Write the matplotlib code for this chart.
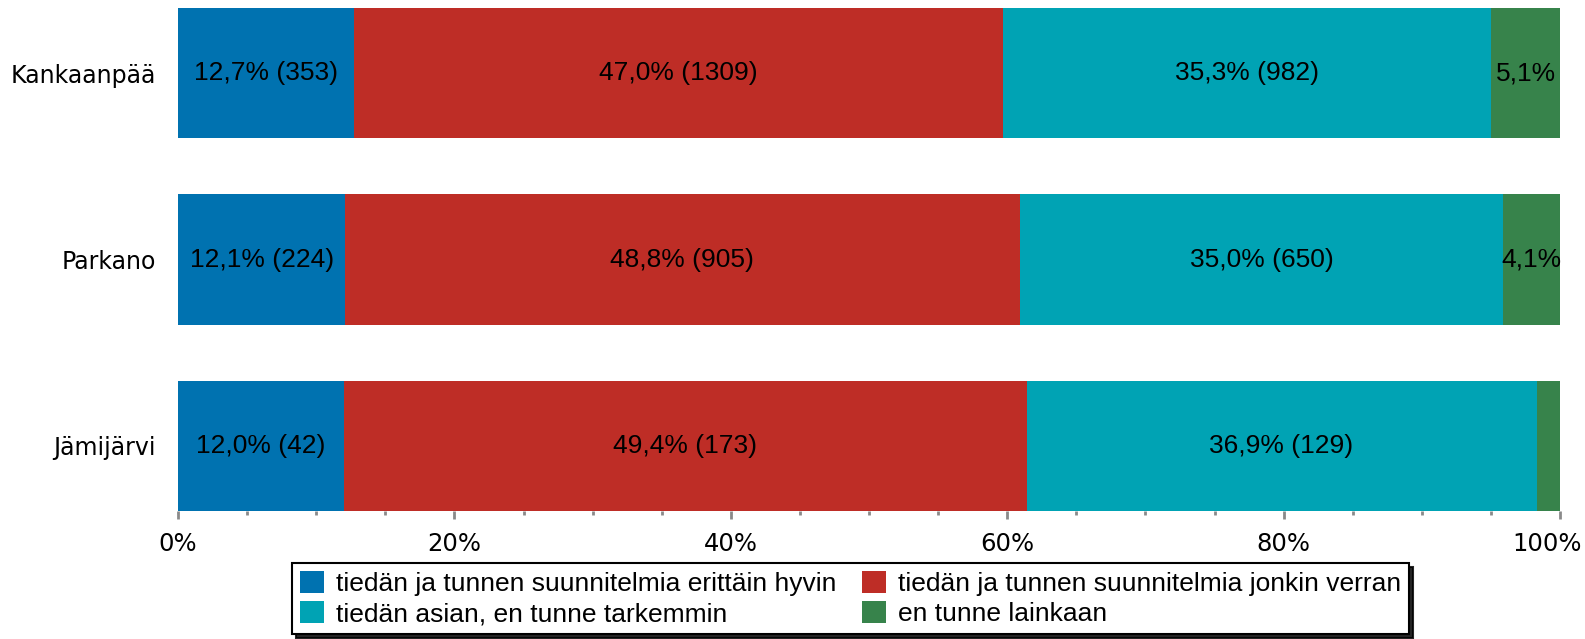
#!/usr/bin/env python3
"""Stacked horizontal bar chart: awareness of plans per municipality."""
import matplotlib
matplotlib.use("Agg")
import matplotlib.pyplot as plt
from matplotlib.ticker import MultipleLocator, FuncFormatter

municipalities = ["Kankaanpää", "Parkano", "Jämijärvi"]
series_names = [
    "tiedän ja tunnen suunnitelmia erittäin hyvin",
    "tiedän ja tunnen suunnitelmia jonkin verran",
    "tiedän asian, en tunne tarkemmin",
    "en tunne lainkaan",
]
# percentages per series (rows follow municipalities)
pct_hyvin = [12.7, 12.1, 12.0]
pct_verran = [47.0, 48.8, 49.4]
pct_asian = [35.3, 35.0, 36.9]
pct_ei = [5.1, 4.1, 1.7]
# counts shown in labels
n_hyvin = [353, 224, 42]
n_verran = [1309, 905, 173]
n_asian = [982, 650, 129]
n_ei = [142, 76, 6]

colors = ["#0072B0", "#BE2D26", "#00A3B4", "#37834B"]

fig = plt.figure(figsize=(15.85, 6.39), dpi=100)
ax = fig.add_axes([178 / 1585, 1 - 511 / 639, (1560 - 178) / 1585, (511 - 8) / 639])

ypos = list(range(len(municipalities)))
left = [0.0] * len(municipalities)
all_pct = [pct_hyvin, pct_verran, pct_asian, pct_ei]
all_n = [n_hyvin, n_verran, n_asian, n_ei]
handles = []
for k, (vals, counts) in enumerate(zip(all_pct, all_n)):
    bars = ax.barh(ypos, vals, left=left, height=0.7, color=colors[k],
                   label=series_names[k])
    handles.append(bars)
    for i, (v, c) in enumerate(zip(vals, counts)):
        cx = left[i] + v / 2
        if v >= 10:
            txt = f"{v:.1f}% ({c})".replace(".", ",")
        elif v >= 3:
            txt = f"{v:.1f}%".replace(".", ",")
        else:
            txt = ""
        if txt:
            ax.text(cx, i, txt, ha="center", va="center", fontsize=19,
                    family="Liberation Sans", color="black")
    left = [l + v for l, v in zip(left, vals)]

ax.set_xlim(0, 100)
ax.set_ylim(2.35, -0.35)
ax.set_yticks(ypos)
ax.set_yticklabels(municipalities, fontsize=17)
ax.tick_params(axis="y", length=0, pad=16)

ax.xaxis.set_major_locator(MultipleLocator(20))
ax.xaxis.set_minor_locator(MultipleLocator(5))
# the 100% label is drawn separately so it stays inside the figure
ax.xaxis.set_major_formatter(FuncFormatter(lambda x, _: "" if x >= 100 else f"{x:.0f}%"))
ax.tick_params(axis="x", which="major", length=6, width=2, color="#8a8a8a",
               labelsize=17.5, pad=9)
ax.tick_params(axis="x", which="minor", length=3, width=2, color="#8a8a8a")
ax.annotate("100%", xy=(100, 0), xycoords=("data", "axes fraction"),
            xytext=(-9.5, -15), textcoords="offset points",
            ha="center", va="top", fontsize=17.5)

for s in ["top", "right", "left", "bottom"]:
    ax.spines[s].set_visible(False)

order = [0, 2, 1, 3]
leg = fig.legend([handles[i] for i in order], [series_names[i] for i in order],
                 loc="upper left", bbox_to_anchor=(292 / 1585, 1 - 563 / 639),
                 ncol=2, frameon=True, fancybox=False,
                 edgecolor="black", shadow={"color": "black", "alpha": 0.85, "ox": 3, "oy": -3},
                 handlelength=0.9, handleheight=0.9, handletextpad=0.45,
                 borderpad=0.3, labelspacing=0.2, columnspacing=1.0,
                 borderaxespad=0,
                 prop={"family": "Liberation Sans", "size": 19})
leg.get_frame().set_linewidth(1.5)

fig.savefig("out.png", dpi=100)
